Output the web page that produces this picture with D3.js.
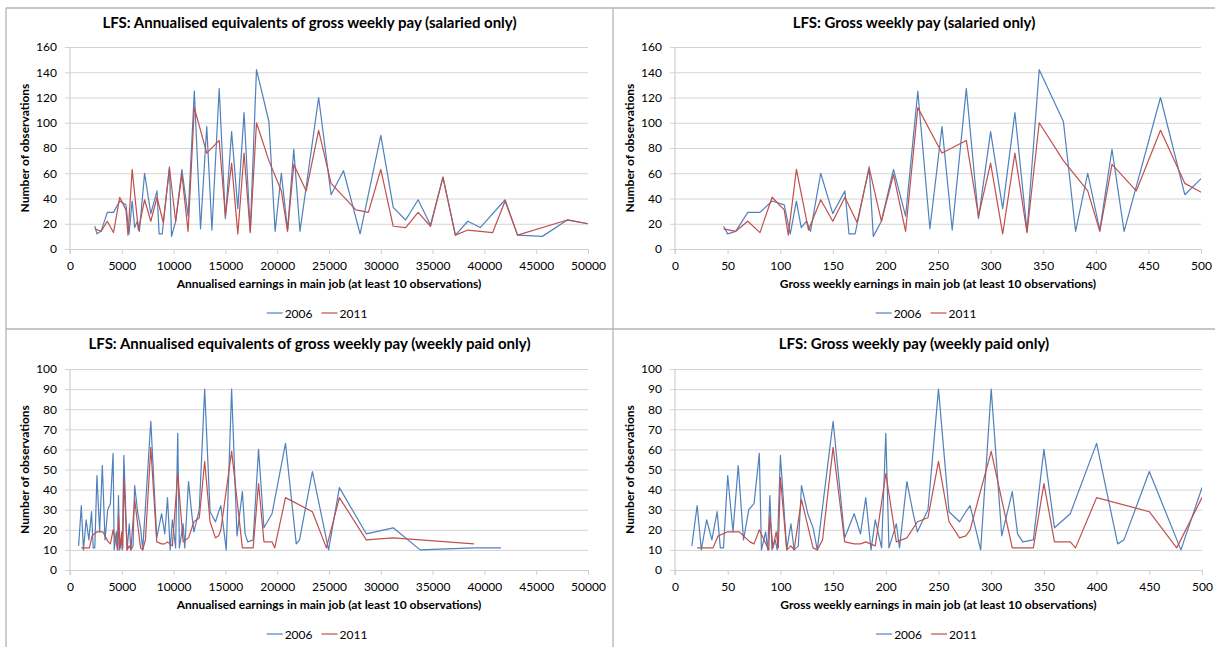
<!DOCTYPE html>
<html><head><meta charset="utf-8">
<script src="https://cdn.jsdelivr.net/npm/d3@7"></script>
<style>
body{margin:0;background:#fff}
svg{display:block}
text{font-family:Lato,"Liberation Sans",sans-serif;fill:#000}
</style>
</head><body>
<svg id="c" width="1215" height="647"></svg>
<script>
// ---------- DATA ----------
const seriesNames = ["2006", "2011"];
const seriesColors = ["#4F81BD", "#C0504D"];

const panelTitles = [
  "LFS: Annualised equivalents of gross weekly pay (salaried only)",
  "LFS: Gross weekly pay (salaried only)",
  "LFS: Annualised equivalents of gross weekly pay (weekly paid only)",
  "LFS: Gross weekly pay (weekly paid only)"
];
const xAxisTitles = [
  "Annualised earnings in main job (at least 10 observations)",
  "Gross weekly earnings in main job (at least 10 observations)",
  "Annualised earnings in main job (at least 10 observations)",
  "Gross weekly earnings in main job (at least 10 observations)"
];
const yAxisTitle = "Number of observations";

const annualTicks = [0,5000,10000,15000,20000,25000,30000,35000,40000,45000,50000];
const weeklyTicks = [0,50,100,150,200,250,300,350,400,450,500];
const salariedYTicks = [0,20,40,60,80,100,120,140,160];
const weeklyPaidYTicks = [0,10,20,30,40,50,60,70,80,90,100];

// Salaried, 2006
const sal06Annual = [2400,2600,3000,3600,4200,4800,5400,5700,6000,6240,6500,6700,7200,7800,8400,8600,8900,9600,9800,10200,10800,11400,12000,12600,13200,13700,14400,15000,15600,16200,16800,17400,18000,19200,19800,20400,21000,21600,22200,24000,25200,26400,28000,30000,31200,32400,33600,34800,36000,37200,38400,39600,42000,43200,45600,48000,50000];
const sal06Weekly = [46.2,50,57.7,69.2,80.8,92.3,103.8,109.6,115.4,120,125,128.8,138.5,150,161.5,165.4,171.2,184.6,188.5,196.2,207.7,219.2,230.8,242.3,253.8,263.5,276.9,288.5,300,311.5,323.1,334.6,346.2,369.2,380.8,392.3,403.8,415.4,426.9,461.5,484.6,507.7,538.5,576.9,600,623.1,646.2,669.2,692.3,715.4,738.5,761.5,807.7,830.8,876.9,923.1,961.5];
const sal06Obs = [18,12,14,29,29,38,35,12,38,17,22,14,60,28,46,12,12,65,10,22,63,26,125,16,97,15,127,24,93,32,108,14,142,101,14,60,15,79,14,120,43,62,12,90,33,23,39,19,57,11,22,17,39,11,10,23,20];

// Salaried, 2011
const sal11Annual = [2400,3000,3600,4200,4800,5400,5600,6000,6600,7200,7800,8400,9000,9600,10200,10800,11400,12000,13200,14400,15000,15600,16200,16800,17400,18000,19200,20400,21000,21600,22800,24000,25200,27600,28800,30000,31200,32400,33600,34800,36000,37200,38400,40800,42000,43200,48000,50000];
const sal11Weekly = [46.2,57.7,69.2,80.8,92.3,103.8,107.7,115.4,126.9,138.5,150,161.5,173.1,184.6,196.2,207.7,219.2,230.8,253.8,276.9,288.5,300,311.5,323.1,334.6,346.2,369.2,392.3,403.8,415.4,438.5,461.5,484.6,530.8,553.8,576.9,600,623.1,646.2,669.2,692.3,715.4,738.5,784.6,807.7,830.8,923.1,961.5];
const sal11Obs = [16,14,22,13,41,31,11,63,15,39,22,41,21,64,22,59,14,112,76,86,26,68,12,76,13,100,70,46,14,67,46,94,52,31,29,63,18,17,29,18,57,11,15,13,38,11,23,20];

// Weekly paid, 2006
const wp06Weekly = [16,21,25,30,35,40,43,46,50,55,60,65,70,75,80,82,86,88,90,92,95,97,100,106,110,113,117,120,126,131,135,150,161,170,176,181,186,190,196,200,203,210,213,220,226,230,240,250,260,270,276,280,290,300,310,320,325,330,340,350,360,375,400,420,426,450,480,500,550,600,650,750,800];
const wp06Annual = [832,1092,1300,1560,1820,2080,2236,2392,2600,2860,3120,3380,3640,3900,4160,4264,4472,4576,4680,4784,4940,5044,5200,5512,5720,5876,6084,6240,6552,6812,7020,7800,8372,8840,9152,9412,9672,9880,10192,10400,10556,10920,11076,11440,11752,11960,12480,13000,13520,14040,14352,14560,15080,15600,16120,16640,16900,17160,17680,18200,18720,19500,20800,21840,22152,23400,24960,26000,28600,31200,33800,39000,41600];
const wp06Obs = [12,32,10,25,15,29,11,11,47,19,52,15,30,33,58,10,19,10,37,10,15,10,57,10,23,10,12,42,28,21,10,74,16,28,18,36,10,25,11,68,11,23,11,44,28,19,30,90,29,24,29,32,10,90,17,39,18,14,15,60,21,28,63,13,15,49,10,41,18,21,10,11,11];

// Weekly paid, 2011
const wp11Weekly = [21,36,41,50,61,71,75,80,89,90,93,96,98,100,106,110,113,120,131,135,140,150,161,170,176,181,190,200,210,220,230,240,250,260,270,276,280,300,320,340,350,360,375,380,400,450,476,500,550,600,750];
const wp11Annual = [1092,1872,2132,2600,3172,3692,3900,4160,4628,4680,4836,4992,5096,5200,5512,5720,5876,6240,6812,7020,7280,7800,8372,8840,9152,9412,9880,10400,10920,11440,11960,12480,13000,13520,14040,14352,14560,15600,16640,17680,18200,18720,19500,19760,20800,23400,24752,26000,28600,31200,39000];
const wp11Obs = [11,11,17,19,19,14,13,20,10,27,11,19,11,46,10,12,10,35,11,10,15,61,14,13,13,14,12,48,14,16,24,26,54,24,16,17,20,59,11,11,43,14,14,11,36,29,11,36,15,16,13];

// ---------- LAYOUT ----------
const panels = [
  {box:[6,8,613,329], plot:[70,47,588,249], title:panelTitles[0], xTitle:xAxisTitles[0], xTicks:annualTicks, yTicks:salariedYTicks,
   series:[[sal06Annual,sal06Obs],[sal11Annual,sal11Obs]]},
  {box:[613,8,1215,329], plot:[675,47,1201,249], title:panelTitles[1], xTitle:xAxisTitles[1], xTicks:weeklyTicks, yTicks:salariedYTicks,
   series:[[sal06Weekly,sal06Obs],[sal11Weekly,sal11Obs]]},
  {box:[6,329,613,647], plot:[70,369,588,570], title:panelTitles[2], xTitle:xAxisTitles[2], xTicks:annualTicks, yTicks:weeklyPaidYTicks,
   series:[[wp06Annual,wp06Obs],[wp11Annual,wp11Obs]]},
  {box:[613,329,1215,647], plot:[675,369,1202,570], title:panelTitles[3], xTitle:xAxisTitles[3], xTicks:weeklyTicks, yTicks:weeklyPaidYTicks,
   series:[[wp06Weekly,wp06Obs],[wp11Weekly,wp11Obs]]}
];

const svg = d3.select("#c");
svg.append("rect").attr("width",1215).attr("height",647).attr("fill","#fff");
const defs = svg.append("defs");

// panel frame lines
const frameColor = "#b4b4b4";
[[6,8,1215,8],[6,8,6,647],[613,8,613,647],[6,329,1215,329]].forEach(l=>{
  svg.append("line").attr("x1",l[0]).attr("y1",l[1]).attr("x2",l[2]).attr("y2",l[3])
    .attr("stroke",frameColor).attr("stroke-width",1.3);
});

panels.forEach((p,i)=>{
  const [L,T,R,B] = p.plot;
  const x = d3.scaleLinear().domain([p.xTicks[0], p.xTicks[p.xTicks.length-1]]).range([L,R]);
  const y = d3.scaleLinear().domain([p.yTicks[0], p.yTicks[p.yTicks.length-1]]).range([B,T]);
  const g = svg.append("g");

  // gridlines + y labels
  const ya = g.append("g").attr("transform",`translate(${L-5},0)`)
    .call(d3.axisLeft(y).tickValues(p.yTicks).tickSize(-(R-L+5)).tickPadding(8).tickFormat(d3.format("d")));
  ya.select(".domain").remove();
  ya.selectAll(".tick line").attr("stroke","#d4d4d4").attr("stroke-width",1);
  ya.selectAll("text").attr("font-size",12).attr("fill","#000").style("font-family","Lato");

  // y axis line
  g.append("line").attr("x1",L).attr("x2",L).attr("y1",T).attr("y2",B+5).attr("stroke","#cfcfcf").attr("stroke-width",1.2);

  // x axis
  const xa = g.append("g").attr("transform",`translate(0,${B})`)
    .call(d3.axisBottom(x).tickValues(p.xTicks).tickSize(5).tickPadding(7).tickSizeOuter(0).tickFormat(d3.format("d")));
  xa.select(".domain").attr("stroke","#cfcfcf").attr("stroke-width",1.2);
  xa.selectAll(".tick line").attr("stroke","#cfcfcf");
  xa.selectAll("text").attr("font-size",12).attr("fill","#000").style("font-family","Lato");

  // clip
  const cid = "clip"+i;
  defs.append("clipPath").attr("id",cid).append("rect").attr("x",L).attr("y",T-3).attr("width",R-L).attr("height",B-T+6);

  const line = d3.line().x(d=>x(d[0])).y(d=>y(d[1]));
  p.series.forEach((s,k)=>{
    const pts = s[0].map((v,j)=>[v,s[1][j]]);
    g.append("path").datum(pts).attr("d",line).attr("fill","none")
      .attr("stroke",seriesColors[k]).attr("stroke-width",1.2).attr("stroke-linejoin","round")
      .attr("clip-path",`url(#${cid})`);
  });
  // redraw 2006 on top faintly? (keep order: 2006 then 2011)

  const cx = (p.box[0]+p.box[2])/2;
  // title
  g.append("text").attr("x",cx).attr("y",p.box[1]+20).attr("text-anchor","middle")
    .attr("font-size",15).attr("font-weight","bold").text(p.title);
  // x title
  g.append("text").attr("x",(L+R)/2).attr("y",B+39).attr("text-anchor","middle")
    .attr("font-size",12).attr("font-weight","bold").text(p.xTitle);
  // y title
  g.append("text").attr("transform",`translate(${L-41},${(T+B)/2}) rotate(-90)`)
    .attr("text-anchor","middle").attr("font-size",12).attr("font-weight","bold").text(yAxisTitle);

  // legend
  const ly = B+64;
  const lg = g.append("g");
  let lx = 0;
  seriesNames.forEach((n,k)=>{
    lg.append("line").attr("x1",lx).attr("x2",lx+16).attr("y1",0).attr("y2",0).attr("stroke",seriesColors[k]).attr("stroke-width",1.2);
    const t = lg.append("text").attr("x",lx+18).attr("y",4.5).attr("font-size",12).text(n);
    lx += 18 + t.node().getComputedTextLength() + 9;
  });
  const lw = lx - 9;
  lg.attr("transform",`translate(${(L+R)/2 - lw/2 - 12},${ly})`);
});
</script>
</body></html>
